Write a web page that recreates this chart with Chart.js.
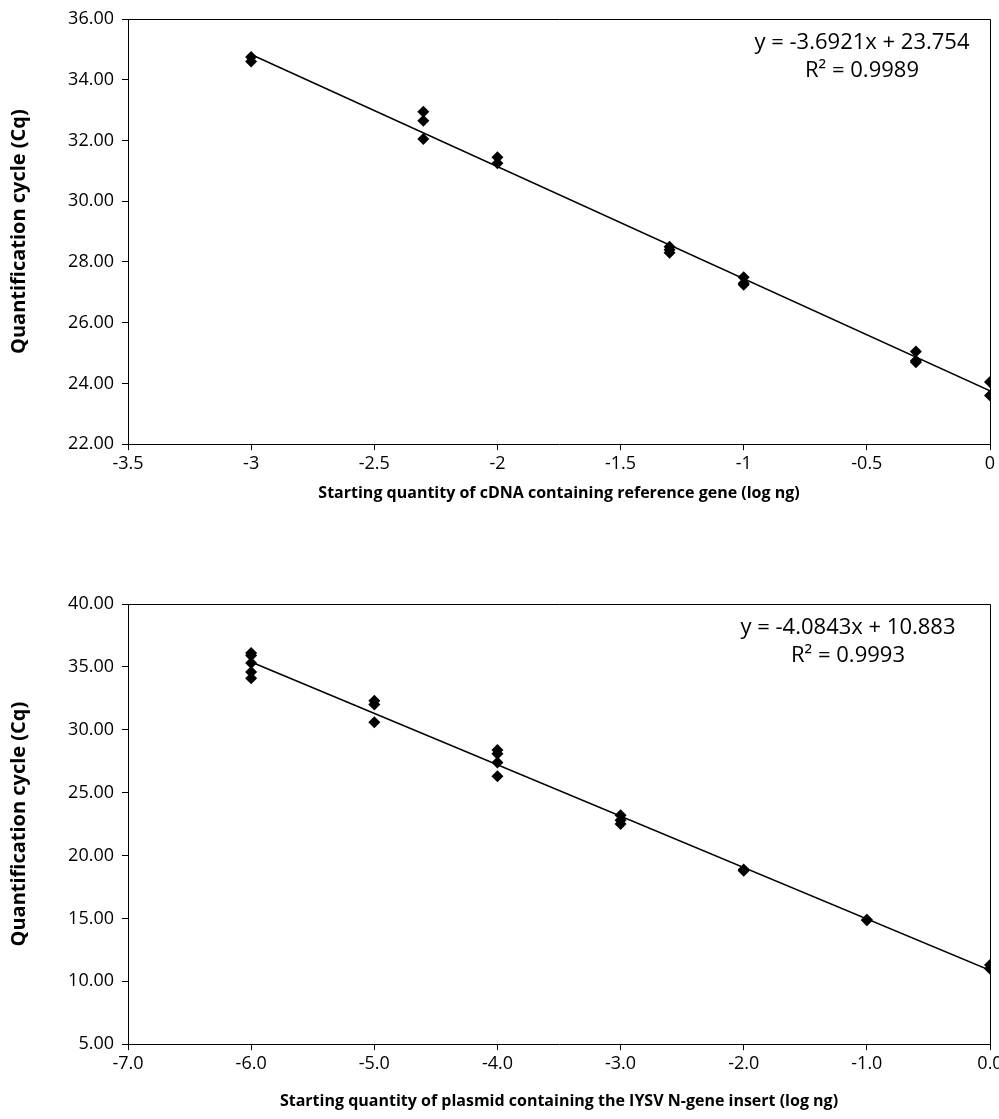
<!DOCTYPE html>
<html>
<head>
<meta charset="utf-8">
<script src="https://cdn.jsdelivr.net/npm/chart.js@4.4.0/dist/chart.umd.min.js"></script>
<style>
  body{ margin:0; background:#fff; }
  #wrap1{ position:absolute; left:0; top:0; width:999px; height:507px; }
  #wrap2{ position:absolute; left:0; top:560px; width:999px; height:555px; }
</style>
</head>
<body>
<div id="wrap1"><canvas id="c1"></canvas></div>
<div id="wrap2"><canvas id="c2"></canvas></div>
<script>

//---------------- data -----------------

// chart 1 : reference gene
var logNg1 = [-3,-3,-2.301,-2.301,-2.301,-2,-2,-1.301,-1.301,-1.301,-1,-1,-1,-0.301,-0.301,-0.301,0,0];
var cq1    = [34.75,34.6,32.95,32.65,32.05,31.45,31.25,28.5,28.4,28.3,27.5,27.3,27.25,25.05,24.75,24.7,24.05,23.6];
var slope1 = -3.6921, icept1 = 23.754, r2_1 = "0.9989";
var xTicks1 = [-3.5,-3,-2.5,-2,-1.5,-1,-0.5,0];
var yTicks1 = [22,24,26,28,30,32,34,36];

// chart 2 : plasmid IYSV N-gene
var logNg2 = [-6,-6,-6,-6,-6,-5,-5,-5,-4,-4,-4,-4,-3,-3,-3,-2,-2,-1,-1,0,0];
var cq2    = [36.1,35.9,35.3,34.6,34.1,32.3,32.0,30.6,28.4,28.1,27.4,26.3,23.2,22.8,22.5,18.9,18.8,14.9,14.85,11.3,11.0];
var slope2 = -4.0843, icept2 = 10.883, r2_2 = "0.9993";
var xTicks2 = [-7,-6,-5,-4,-3,-2,-1,0];
var yTicks2 = [5,10,15,20,25,30,35,40];

//---------------------------------------

var FONT = "'Open Sans', sans-serif";

function pts(xs, ys){
    var out = [];
    for (let i = 0; i < xs.length; i++) out.push({x: xs[i], y: ys[i]});
    return out;
}

function trend(xs, m, b){
    var lo = Math.min.apply(null, xs), hi = Math.max.apply(null, xs);
    return [{x: lo, y: m*lo + b}, {x: hi, y: m*hi + b}];
}

var boxAndText = {
    id: 'boxAndText',
    afterDraw: function(chart, args, opt){
        var c = chart.ctx, a = chart.chartArea;
        c.save();
        c.strokeStyle = '#000';
        c.lineWidth = 1;
        c.beginPath();
        c.moveTo(a.left, a.top + 0.5);
        c.lineTo(a.right + 0.5, a.top + 0.5);
        c.lineTo(a.right + 0.5, a.bottom);
        c.stroke();
        c.fillStyle = '#000';
        c.font = "22px " + FONT;
        c.textAlign = 'center';
        c.textBaseline = 'middle';
        c.fillText(opt.eq, a.right - opt.dx, a.top + 24);
        c.fillText(opt.r2, a.right - opt.dx, a.top + 52);
        c.restore();
    }
};

function make(id, xs, ys, m, b, r2, xt, yt, xDec, xTitle, dx, padTop, titlePad){
    var sign = b < 0 ? " - " : " + ";
    return new Chart(document.getElementById(id), {
        type: 'scatter',
        data: {
            datasets: [{
                data: pts(xs, ys),
                pointStyle: 'rectRot',
                pointRadius: 6,
                pointHoverRadius: 6,
                backgroundColor: '#000',
                borderColor: '#000',
                borderWidth: 0
            },{
                type: 'line',
                data: trend(xs, m, b),
                borderColor: '#000',
                borderWidth: 1.5,
                pointRadius: 0,
                fill: false
            }]
        },
        options: {
            responsive: true,
            maintainAspectRatio: false,
            animation: false,
            events: [],
            layout: { padding: { top: padTop, right: 9, left: 0, bottom: 0 } },
            plugins: {
                legend: { display: false },
                tooltip: { enabled: false },
                boxAndText: { eq: "y = " + m + "x" + sign + Math.abs(b), r2: "R² = " + r2, dx: dx }
            },
            scales: {
                x: {
                    type: 'linear',
                    min: xt[0], max: xt[xt.length-1],
                    afterBuildTicks: function(s){ s.ticks = xt.map(v => ({value: v})); },
                    afterFit: function(s){ s.paddingRight = 0; },
                    ticks: {
                        color: '#000', font: { family: FONT, size: 18 }, padding: 3,
                        callback: v => xDec ? v.toFixed(1) : String(v)
                    },
                    grid: { drawOnChartArea: false, color: '#000', tickLength: 6 },
                    border: { color: '#000', width: 1 },
                    title: { display: true, text: xTitle, color: '#000',
                             font: { family: FONT, size: 16, weight: 'bold' }, padding: { top: titlePad, bottom: 4 } }
                },
                y: {
                    min: yt[0], max: yt[yt.length-1],
                    afterBuildTicks: function(s){ s.ticks = yt.map(v => ({value: v})); },
                    afterFit: function(s){ s.width = 128; },
                    ticks: {
                        color: '#000', font: { family: FONT, size: 18 }, padding: 8,
                        callback: v => v.toFixed(2)
                    },
                    grid: { drawOnChartArea: false, color: '#000', tickLength: 6 },
                    border: { color: '#000', width: 1 },
                    title: { display: true, text: 'Quantification cycle (Cq)', color: '#000',
                             font: { family: FONT, size: 20, weight: 'bold' }, padding: { top: 7 } }
                }
            }
        },
        plugins: [boxAndText]
    });
}

make('c1', logNg1, cq1, slope1, icept1, r2_1, xTicks1, yTicks1, false,
     'Starting quantity of cDNA containing reference gene (log ng)', 128, 19, 6);
make('c2', logNg2, cq2, slope2, icept2, r2_2, xTicks2, yTicks2, true,
     'Starting quantity of plasmid containing the IYSV N-gene insert (log ng)', 142, 44, 14);

</script>
</body>
</html>
